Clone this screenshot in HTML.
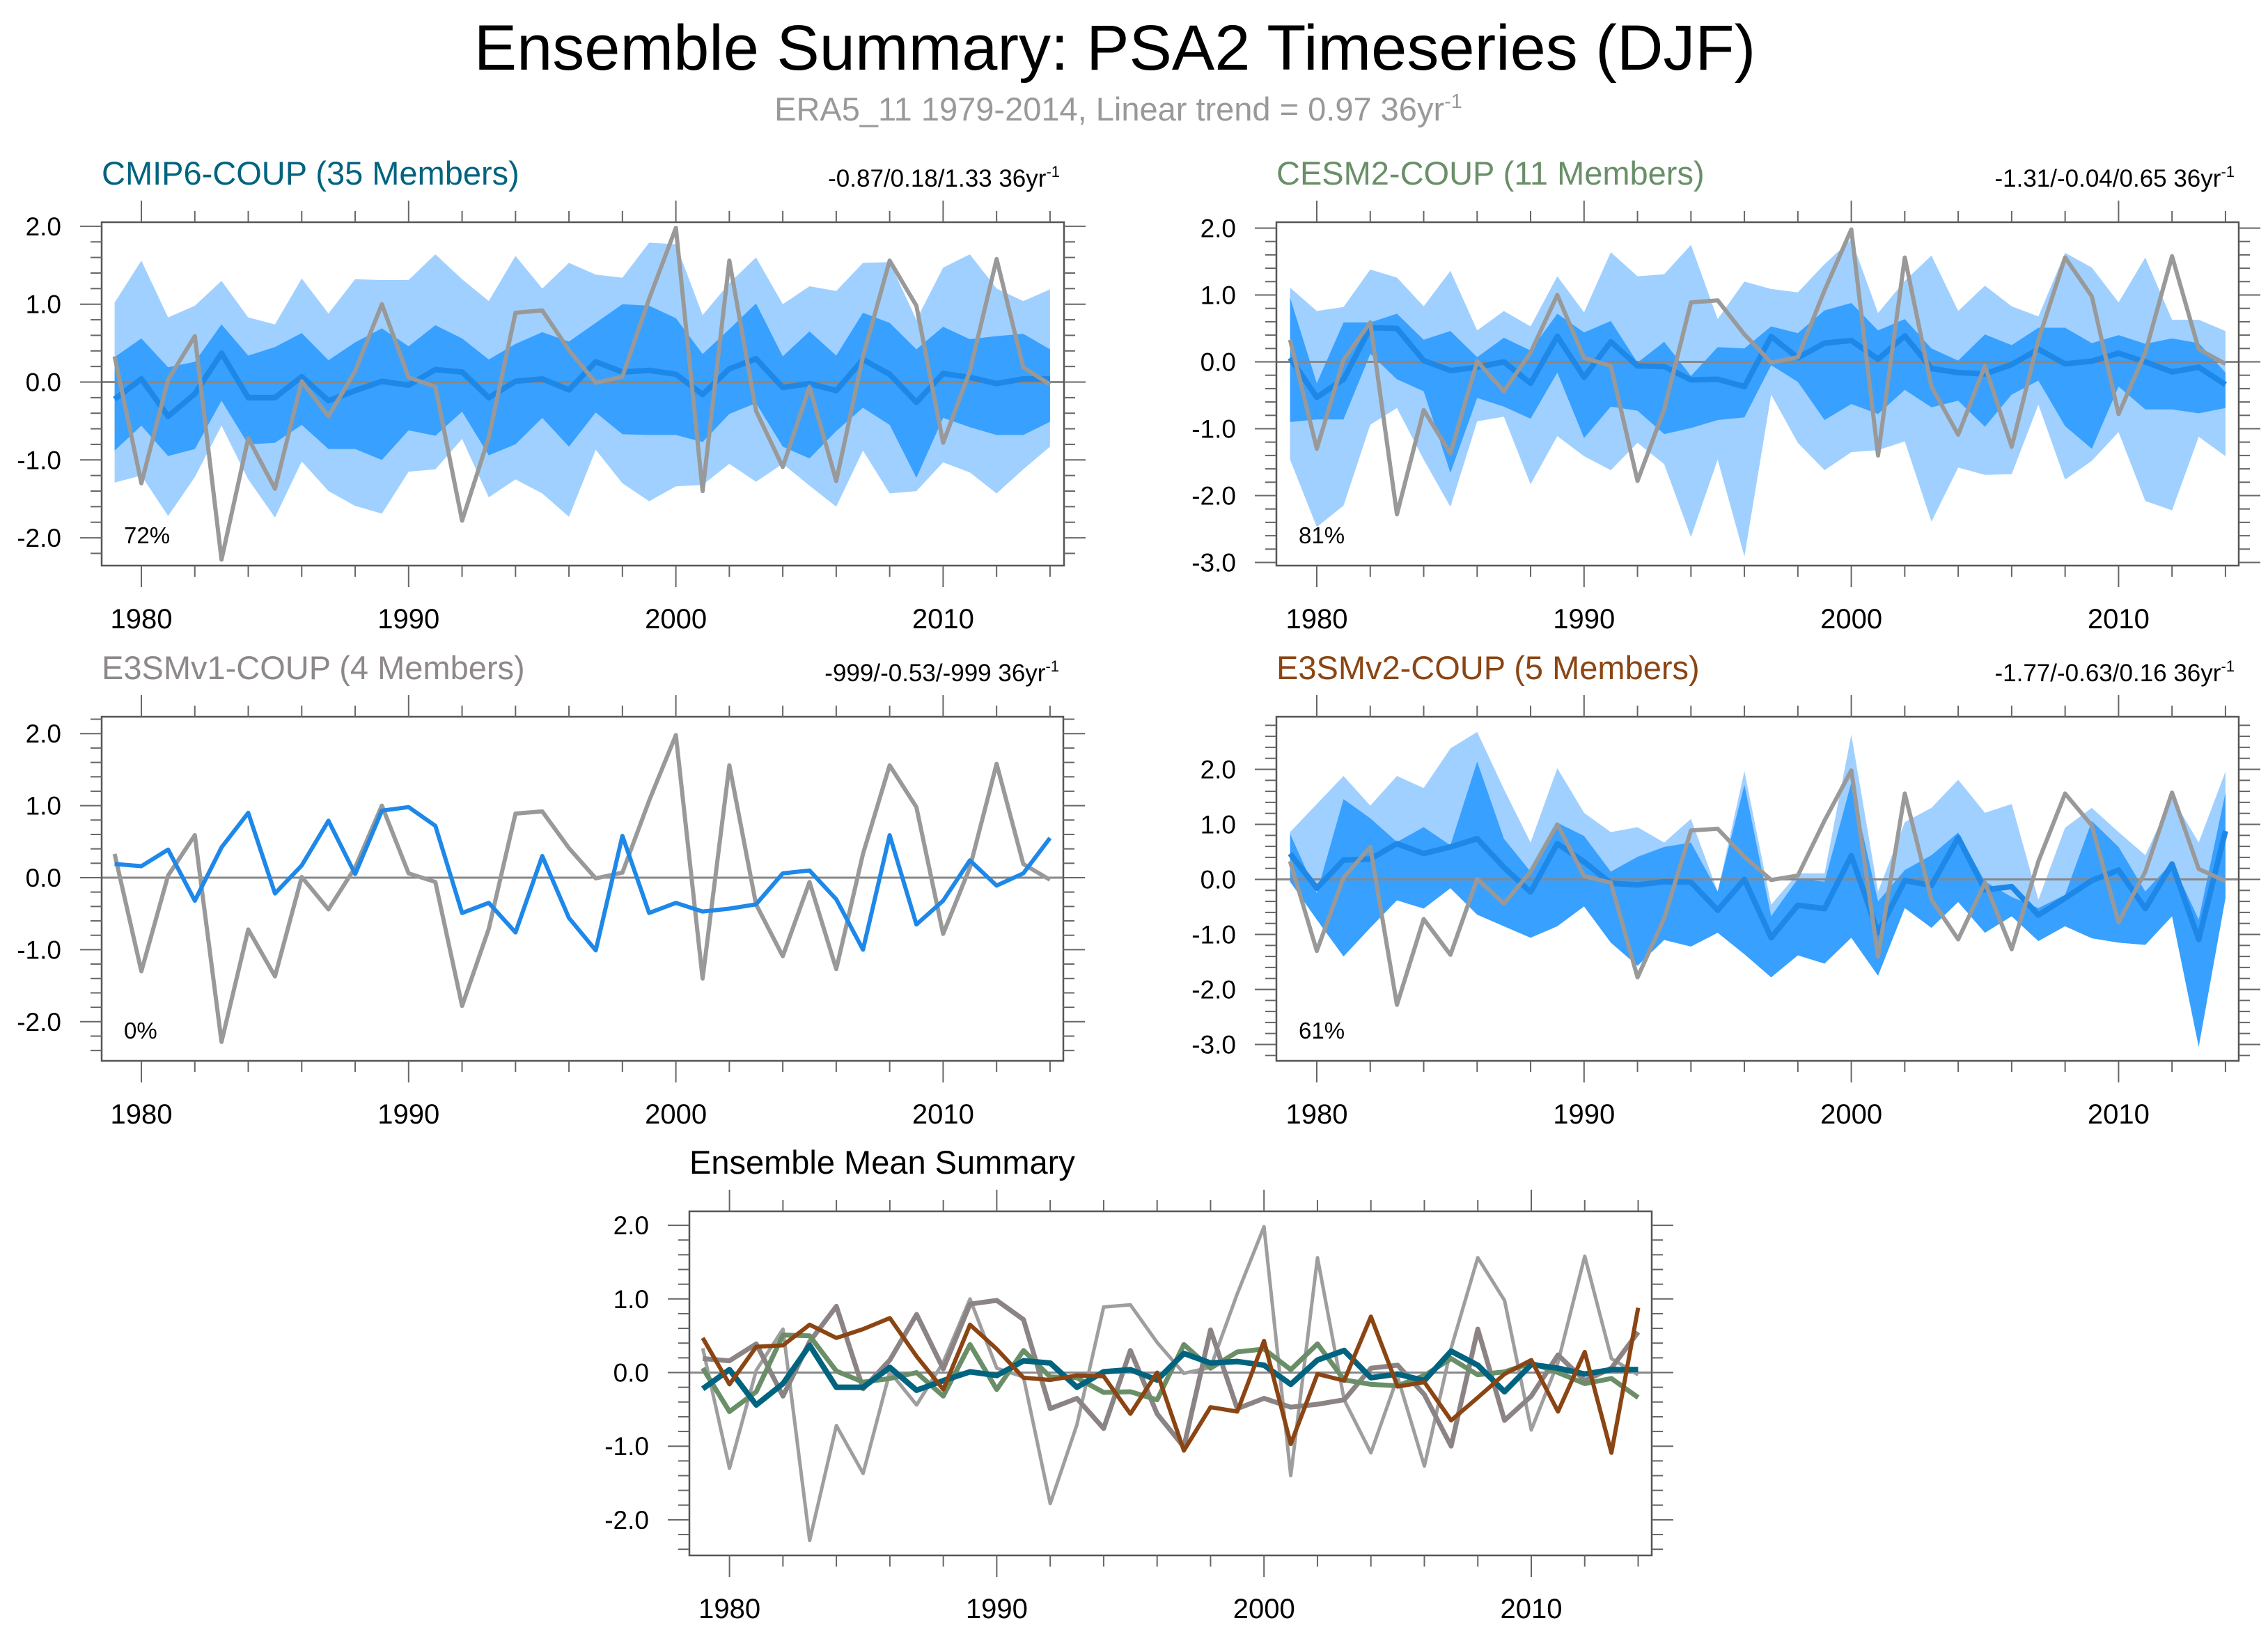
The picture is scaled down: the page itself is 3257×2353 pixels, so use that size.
<!DOCTYPE html>
<html><head><meta charset="utf-8"><title>Ensemble Summary: PSA2 Timeseries (DJF)</title>
<style>
html,body{margin:0;padding:0;background:#fff;}
svg{display:block;font-family:"Liberation Sans",Arial,sans-serif;}
</style></head>
<body>
<svg id="fig" xmlns="http://www.w3.org/2000/svg" width="3257" height="2353" viewBox="0 0 3257 2353">
<rect x="0" y="0" width="3257" height="2353" fill="#fff"/>
<text x="1601" y="100" font-size="92" text-anchor="middle" fill="#000">Ensemble Summary: PSA2 Timeseries (DJF)</text>
<text x="1606" y="173" font-size="47" text-anchor="middle" fill="#999">ERA5_11 1979-2014, Linear trend = 0.97 36yr<tspan dy="-18" font-size="29">-1</tspan></text>
</svg>
<script>
const years = [1979,1980,1981,1982,1983,1984,1985,1986,1987,1988,1989,1990,1991,1992,1993,1994,1995,1996,1997,1998,1999,2000,2001,2002,2003,2004,2005,2006,2007,2008,2009,2010,2011,2012,2013,2014];
const era5 = [0.33,-1.30,0.03,0.59,-2.28,-0.72,-1.37,0.01,-0.44,0.14,1.00,0.06,-0.06,-1.78,-0.71,0.89,0.92,0.41,-0.01,0.07,1.07,1.98,-1.40,1.56,-0.37,-1.09,-0.06,-1.27,0.33,1.56,0.98,-0.78,0.14,1.58,0.19,-0.03];
const cmipMean = [-0.22,0.04,-0.44,-0.15,0.37,-0.20,-0.20,0.07,-0.24,-0.11,0.01,-0.04,0.16,0.13,-0.20,0.01,0.04,-0.10,0.26,0.13,0.15,0.10,-0.16,0.17,0.30,-0.07,-0.02,-0.11,0.29,0.10,-0.26,0.11,0.06,-0.02,0.04,0.04];
const cmipOuterHi = [1.02,1.56,0.83,0.98,1.30,0.83,0.74,1.33,0.88,1.32,1.31,1.31,1.64,1.32,1.04,1.62,1.20,1.53,1.38,1.34,1.79,1.77,0.86,1.27,1.60,1.00,1.23,1.17,1.53,1.54,0.80,1.47,1.64,1.20,1.04,1.19];
const cmipOuterLo = [-1.29,-1.20,-1.72,-1.22,-0.56,-1.25,-1.74,-1.02,-1.40,-1.59,-1.69,-1.15,-1.12,-0.73,-1.48,-1.25,-1.43,-1.73,-0.87,-1.30,-1.53,-1.34,-1.32,-1.05,-1.28,-1.05,-1.33,-1.60,-0.88,-1.43,-1.40,-1.03,-1.16,-1.43,-1.12,-0.83];
const cmipInnerHi = [0.32,0.56,0.19,0.26,0.74,0.34,0.45,0.63,0.28,0.51,0.69,0.46,0.73,0.56,0.29,0.49,0.64,0.52,0.76,1.00,0.98,0.82,0.36,0.68,1.01,0.33,0.65,0.34,0.89,0.76,0.42,0.71,0.55,0.59,0.62,0.42];
const cmipInnerLo = [-0.88,-0.56,-0.95,-0.86,-0.24,-0.80,-0.78,-0.55,-0.86,-0.86,-1.00,-0.62,-0.69,-0.38,-0.94,-0.80,-0.46,-0.83,-0.39,-0.67,-0.68,-0.68,-0.77,-0.41,-0.27,-0.83,-0.98,-0.63,-0.33,-0.55,-1.23,-0.46,-0.58,-0.68,-0.68,-0.51];
const cesmMean = [0.06,-0.53,-0.26,0.51,0.50,0.02,-0.13,-0.08,0.00,-0.32,0.38,-0.23,0.30,-0.06,-0.07,-0.27,-0.26,-0.37,0.38,0.06,0.28,0.32,0.04,0.39,-0.10,-0.16,-0.18,-0.04,0.19,-0.03,0.01,0.13,0.00,-0.15,-0.08,-0.34];
const cesmOuterHi = [1.11,0.76,0.82,1.38,1.26,0.83,1.36,0.47,0.76,0.53,1.28,0.74,1.64,1.28,1.31,1.75,0.64,1.20,1.09,1.04,1.46,1.83,0.73,1.21,1.59,0.76,1.14,0.83,0.68,1.63,1.41,0.89,1.56,0.63,0.63,0.46];
const cesmOuterLo = [-1.46,-2.47,-2.15,-0.94,-0.69,-1.46,-2.17,-0.89,-0.82,-1.83,-1.11,-1.41,-1.62,-1.21,-1.53,-2.62,-1.46,-2.91,-0.49,-1.21,-1.62,-1.35,-1.32,-1.19,-2.39,-1.58,-1.69,-1.68,-0.64,-1.76,-1.48,-1.05,-2.08,-2.22,-1.12,-1.41];
const cesmInnerHi = [0.96,-0.32,0.59,0.59,0.72,0.33,0.46,0.07,0.36,0.17,0.72,0.44,0.61,-0.01,0.30,-0.21,0.22,0.20,0.53,0.43,0.77,0.88,0.47,0.64,0.20,0.02,0.41,0.25,0.51,0.51,0.28,0.40,0.27,0.35,0.28,-0.16];
const cesmInnerLo = [-0.90,-0.86,-0.86,0.12,-0.26,-0.44,-1.66,-0.54,-0.67,-0.85,-0.16,-1.14,-0.67,-0.73,-1.08,-0.99,-0.87,-0.83,-0.05,-0.30,-0.87,-0.63,-0.78,-0.42,-0.68,-0.58,-0.97,-0.49,-0.28,-0.96,-1.30,-0.37,-0.71,-0.71,-0.77,-0.69];
const e3v1Mean = [0.19,0.16,0.39,-0.32,0.42,0.90,-0.22,0.17,0.79,0.05,0.93,0.98,0.72,-0.49,-0.35,-0.76,0.30,-0.56,-1.01,0.58,-0.49,-0.35,-0.47,-0.43,-0.37,0.06,0.10,-0.30,-1.00,0.59,-0.65,-0.32,0.24,-0.11,0.06,0.55];
const e3v2Mean = [0.47,-0.16,0.35,0.37,0.65,0.47,0.59,0.74,0.22,-0.23,0.65,0.32,-0.07,-0.10,-0.04,-0.05,-0.56,0.00,-1.06,-0.47,-0.53,0.43,-0.97,-0.02,-0.11,0.76,-0.19,-0.13,-0.65,-0.34,-0.02,0.17,-0.53,0.28,-1.09,0.88];
const e3v2OuterHi = [0.86,1.37,1.88,1.34,1.88,1.66,2.38,2.68,1.64,0.67,2.02,1.21,0.86,0.95,0.67,1.10,-0.22,1.97,-0.46,0.11,0.11,2.63,-0.22,1.04,1.30,1.81,1.21,1.37,-0.37,0.94,1.30,0.86,0.44,1.49,0.67,1.96];
const e3v2InnerHi = [0.83,-0.25,1.46,1.11,0.68,0.95,0.62,2.14,0.74,0.14,1.03,0.79,0.14,0.41,0.59,0.67,-0.22,1.72,-0.67,0.01,-0.04,1.76,-0.40,0.17,0.44,0.85,-0.04,-0.32,-0.52,-0.28,1.06,0.59,-0.22,0.31,-0.73,1.58];
const e3v2InnerLo = [-0.04,-0.73,-1.40,-0.88,-0.38,-0.53,-0.16,-0.64,-0.85,-1.06,-0.85,-0.49,-1.15,-1.57,-1.10,-1.22,-0.97,-1.36,-1.78,-1.38,-1.53,-1.06,-1.75,-0.52,-0.88,-0.41,-0.97,-0.67,-1.12,-0.85,-1.07,-1.15,-1.19,-0.67,-3.04,-0.34];
const e3v2OuterLo = e3v2InnerLo;
const xTickLabels = ["1980","1990","2000","2010"];
const yTicksA = [-2,-1,0,1,2];
const yTicksB = [-3,-2,-1,0,1,2];

const NS = "http://www.w3.org/2000/svg";
const svg = document.getElementById('fig');
const LIGHT = "#a0d0ff", DARK = "#38a0ff", MEANC = "#1e88e8", ERAC = "#999999";

function mk(tag, attrs, parent){
  const e = document.createElementNS(NS, tag);
  for (const k in attrs) e.setAttribute(k, attrs[k]);
  (parent||svg).appendChild(e);
  return e;
}

function makePanel(cfg){
  const g = mk('g', {});
  
  
  const X = yr => cfg.x1980 + (yr - 1980) * 38.38;
  const Y = v => cfg.y0 - v * cfg.unit;
  const vTop = (cfg.y0 - cfg.fy0) / cfg.unit, vBot = (cfg.y0 - cfg.fy1) / cfg.unit;
  const clipId = 'clip-' + cfg.name;
  const cp = mk('clipPath', {id: clipId}, g);
  mk('rect', {x: cfg.fx0, y: cfg.fy0, width: cfg.fx1 - cfg.fx0, height: cfg.fy1 - cfg.fy0}, cp);
  const plot = mk('g', {'clip-path': 'url(#' + clipId + ')'}, g);
  function band(hi, lo, color, nm){
    let d = '';
    years.forEach((yr, i) => { d += (i ? 'L' : 'M') + X(yr).toFixed(1) + ',' + Y(hi[i]).toFixed(1); });
    for (let i = years.length - 1; i >= 0; i--) d += 'L' + X(years[i]).toFixed(1) + ',' + Y(lo[i]).toFixed(1);
    const p = mk('path', {d: d + 'Z', fill: color, stroke: 'none'}, plot);
    
    
  }
  function line(vals, color, w, nm){
    const pts = years.map((yr, i) => X(yr).toFixed(1) + ',' + Y(vals[i]).toFixed(1)).join(' ');
    const p = mk('polyline', {points: pts, fill: 'none', stroke: color, 'stroke-width': w, 'stroke-linejoin': 'round'}, plot);
    
    
  }
  if (cfg.bands) cfg.bands.forEach(b => band(b[0], b[1], b[2], b[3]));
  const zl = mk('line', {x1: cfg.fx0, x2: cfg.fx1, y1: Y(0), y2: Y(0), stroke: '#888', 'stroke-width': 3}, plot);
  
  
  cfg.lines.forEach(l => line(l[0], l[1], l[2], l[3]));
  const fr = mk('rect', {x: cfg.fx0, y: cfg.fy0, width: cfg.fx1 - cfg.fx0, height: cfg.fy1 - cfg.fy0, fill: 'none', stroke: '#555', 'stroke-width': 2.5}, g);
  
  
  for (let k = Math.ceil(vBot * 5); k <= Math.floor(vTop * 5); k++) {
    const v = k / 5, yy = Y(v), major = (k % 5 === 0);
    const len = major ? 31 : 16;
    mk('line', {x1: cfg.fx0 - len, x2: cfg.fx0, y1: yy, y2: yy, stroke: '#666', 'stroke-width': 2}, g);
    mk('line', {x1: cfg.fx1, x2: cfg.fx1 + len, y1: yy, y2: yy, stroke: '#666', 'stroke-width': 2}, g);
  }
  cfg.yticks.forEach(v => {
    const t = mk('text', {x: cfg.fx0 - 58, y: Y(v) + 13, 'font-size': 37, 'text-anchor': 'end', fill: '#000'}, g);
    t.textContent = v.toFixed(1);
    
    
  });
  for (let yr = 1980; yr <= 2014; yr += 2) {
    const xx = X(yr), major = (yr % 10 === 0);
    const len = major ? 31 : 16;
    mk('line', {x1: xx, x2: xx, y1: cfg.fy0 - len, y2: cfg.fy0, stroke: '#666', 'stroke-width': 2}, g);
    mk('line', {x1: xx, x2: xx, y1: cfg.fy1, y2: cfg.fy1 + len, stroke: '#666', 'stroke-width': 2}, g);
  }
  xTickLabels.forEach(lb => {
    const t = mk('text', {x: X(+lb), y: cfg.fy1 + 90, 'font-size': 40, 'text-anchor': 'middle', fill: '#000'}, g);
    t.textContent = lb;
    
    
  });
  const tt = mk('text', {x: cfg.fx0, y: cfg.fy0 - 54, 'font-size': 47, fill: cfg.titleColor}, g);
  tt.textContent = cfg.title;
  
  
  if (cfg.trend) {
    const tr = mk('text', {x: cfg.fx1 - 6, y: cfg.fy0 - 51, 'font-size': 35, 'text-anchor': 'end', fill: '#000'}, g);
    tr.textContent = cfg.trend;
    const sup = mk('tspan', {dy: -14, 'font-size': 22}, tr);
    sup.textContent = '-1';
    
    
  }
  if (cfg.pct) {
    const pc = mk('text', {x: cfg.fx0 + 32, y: cfg.fy1 - 32, 'font-size': 33, fill: '#000'}, g);
    pc.textContent = cfg.pct;
    
    
  }
}

makePanel({name:'cmip6-panel', fx0:146, fx1:1528, fy0:319, fy1:812, x1980:203, y0:548.5, unit:111.8, yticks:yTicksA,
  title:'CMIP6-COUP (35 Members)', titleColor:'#00637f', trend:'-0.87/0.18/1.33 36yr', pct:'72%',
  bands:[[cmipOuterHi,cmipOuterLo,LIGHT,'cmip6-outer-band'],[cmipInnerHi,cmipInnerLo,DARK,'cmip6-inner-band']],
  lines:[[cmipMean,MEANC,8,'cmip6-mean-line'],[era5,ERAC,6,'era5-line']]});
makePanel({name:'cesm2-panel', fx0:1833, fx1:3215, fy0:319, fy1:812, x1980:1891, y0:519.5, unit:96, yticks:yTicksB,
  title:'CESM2-COUP (11 Members)', titleColor:'#6a8f68', trend:'-1.31/-0.04/0.65 36yr', pct:'81%',
  bands:[[cesmOuterHi,cesmOuterLo,LIGHT,'cesm2-outer-band'],[cesmInnerHi,cesmInnerLo,DARK,'cesm2-inner-band']],
  lines:[[cesmMean,MEANC,8,'cesm2-mean-line'],[era5,ERAC,6,'era5-line']]});
makePanel({name:'e3smv1-panel', fx0:146, fx1:1527, fy0:1029, fy1:1523, x1980:203, y0:1260, unit:103.4, yticks:yTicksA,
  title:'E3SMv1-COUP (4 Members)', titleColor:'#8e8888', trend:'-999/-0.53/-999 36yr', pct:'0%',
  lines:[[era5,ERAC,6,'era5-line'],[e3v1Mean,MEANC,6,'e3smv1-mean-line']]});
makePanel({name:'e3smv2-panel', fx0:1833, fx1:3215, fy0:1029, fy1:1523, x1980:1891, y0:1262.5, unit:79, yticks:yTicksB,
  title:'E3SMv2-COUP (5 Members)', titleColor:'#8b4513', trend:'-1.77/-0.63/0.16 36yr', pct:'61%',
  bands:[[e3v2OuterHi,e3v2OuterLo,LIGHT,'e3smv2-outer-band'],[e3v2InnerHi,e3v2InnerLo,DARK,'e3smv2-inner-band']],
  lines:[[e3v2Mean,MEANC,8,'e3smv2-mean-line'],[era5,ERAC,6,'era5-line']]});
makePanel({name:'ensemble-mean-panel', fx0:990, fx1:2372, fy0:1739, fy1:2233, x1980:1047.6, y0:1970.5, unit:105.7, yticks:yTicksA,
  title:'Ensemble Mean Summary', titleColor:'#000',
  lines:[[era5,'#9e9e9e',5,'era5-line'],[e3v1Mean,'#8c8484',7,'e3smv1-mean-line'],[cesmMean,'#6a8f68',7,'cesm2-mean-line'],[cmipMean,'#00637f',8,'cmip6-mean-line'],[e3v2Mean,'#8b4513',6,'e3smv2-mean-line']]});
</script>
</body></html>
